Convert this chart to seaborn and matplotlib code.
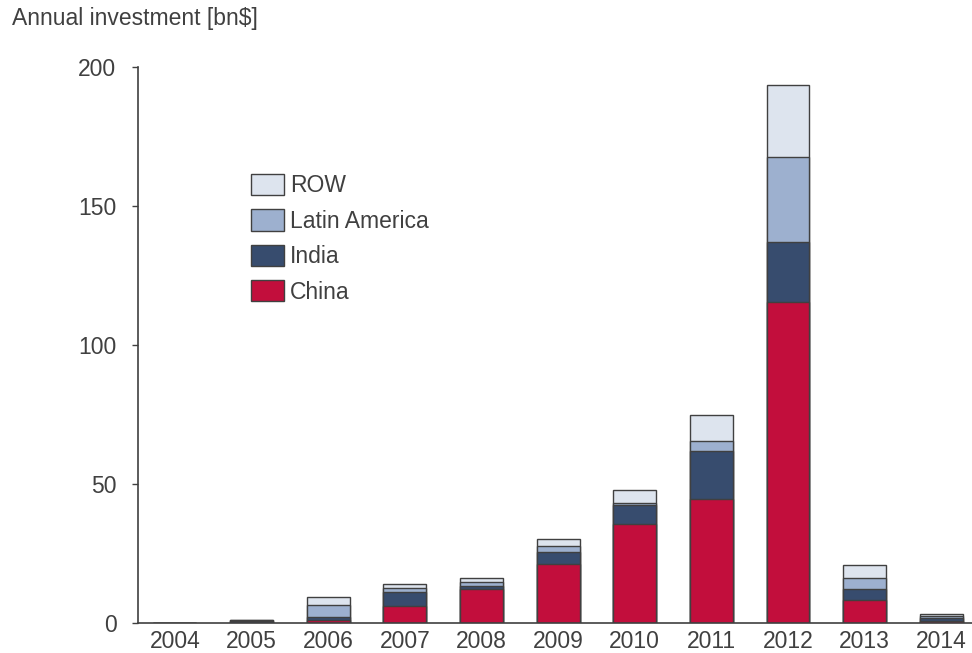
import numpy as np
import pandas as pd
import seaborn as sns
import matplotlib.pyplot as plt

years = ["2004", "2005", "2006", "2007", "2008", "2009", "2010", "2011", "2012", "2013", "2014"]
china = [0.0, 0.1, 1.2, 6.2, 12.1, 21.3, 35.5, 44.6, 115.6, 8.2, 0.6]
india = [0.0, 0.7, 1.1, 4.8, 1.3, 4.3, 7.1, 17.3, 21.4, 4.1, 1.2]
latin_america = [0.0, 0.1, 4.1, 1.6, 1.5, 2.0, 0.7, 3.5, 30.5, 3.8, 0.7]
row = [0.0, 0.1, 3.0, 1.4, 1.2, 2.7, 4.5, 9.4, 26.0, 4.9, 0.7]

series_names = ["China", "India", "Latin America", "ROW"]
series_vals = [china, india, latin_america, row]
colors = {"China": "#c20e3c", "India": "#374c6e", "Latin America": "#9db0cf", "ROW": "#dde4ee"}

sns.set_style("white")
plt.rcParams['font.family'] = ['Liberation Sans', 'DejaVu Sans']

df = pd.DataFrame({"year": years})
cum = np.zeros(len(years))
for name, vals in zip(series_names, series_vals):
    cum = cum + np.array(vals)
    df[name] = cum.copy()

fig = plt.figure(figsize=(9.72, 6.53), dpi=100)
ax = fig.add_axes([138 / 972, 1 - 623 / 653, 1 - 138 / 972, (623 - 67) / 653])

edge = "#404040"
for name in reversed(series_names):
    sns.barplot(data=df, x="year", y=name, color=colors[name], ax=ax,
                width=0.56, edgecolor=edge, linewidth=1.0, saturation=1,
                label=name, errorbar=None)

ax.set_ylim(0, 200)
ax.set_xlim(-0.48, 10.4)
ax.set_yticks([0, 50, 100, 150, 200])
ax.set_xlabel("")
ax.set_ylabel("")
text_color = "#404040"
ax.tick_params(axis="y", direction="out", length=4.5, width=1, color=edge,
               labelsize=16.5, labelcolor=text_color, pad=11, left=True)
ax.tick_params(axis="x", length=0, labelsize=16.5, labelcolor=text_color, pad=5)
for s in ["top", "right"]:
    ax.spines[s].set_visible(False)
for s in ["left", "bottom"]:
    ax.spines[s].set_color(edge)
    ax.spines[s].set_linewidth(1.2)

handles, labels = ax.get_legend_handles_labels()
leg = ax.legend(handles, labels, loc="upper left", bbox_to_anchor=(251 / 972, 1 - 174 / 653),
                bbox_transform=fig.transFigure, frameon=False, fontsize=16.5,
                handlelength=1.45, handleheight=1.05, handletextpad=0.25, labelspacing=0.52,
                labelcolor=text_color, borderpad=0, borderaxespad=0)

fig.text(12 / 972, 1 - 18 / 653, "Annual investment [bn$]", fontsize=16.5,
         color=text_color, va="center", ha="left")

fig.savefig("out.png", dpi=100)
